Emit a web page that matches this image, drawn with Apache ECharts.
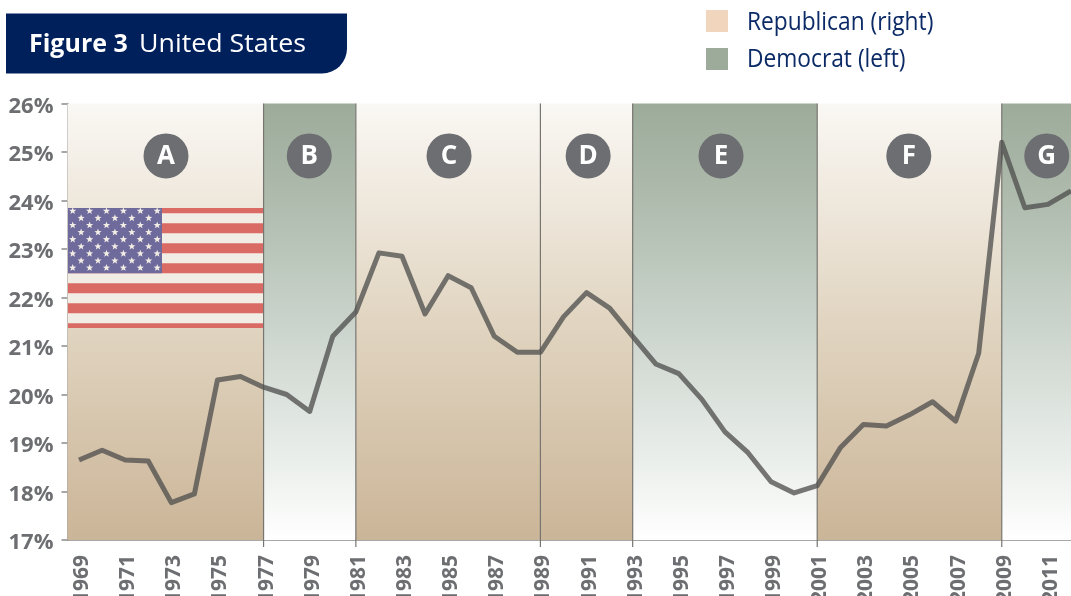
<!DOCTYPE html>
<html>
<head>
<meta charset="utf-8">
<title>Figure 3 United States</title>
<script src="https://cdn.jsdelivr.net/npm/echarts@6/dist/echarts.min.js"></script>
<style>
  html, body {margin: 0; padding: 0; background: #fff; overflow: hidden;}
  #chart {width: 1071px; height: 596px;}
</style>
</head>
<body>
<div id="chart"></div>
<script>
var years = ['1969','1970','1971','1972','1973','1974','1975','1976','1977','1978','1979','1980','1981','1982','1983',
  '1984','1985','1986','1987','1988','1989','1990','1991','1992','1993','1994','1995','1996','1997','1998','1999',
  '2000','2001','2002','2003','2004','2005','2006','2007','2008','2009','2010','2011','2012'];
var values = [18.65,18.85,18.65,18.63,17.77,17.95,20.3,20.37,20.15,20.0,19.65,21.2,21.7,22.92,22.85,
  21.66,22.45,22.2,21.2,20.87,20.87,21.6,22.1,21.78,21.2,20.63,20.43,19.9,19.23,18.8,18.2,
  17.97,18.12,18.9,19.38,19.35,19.58,19.85,19.45,20.85,25.2,23.85,23.92,24.2];

var periodStart = ['1969','1977','1981','1989','1993','2001','2009'];
var periodEnd = ['1977','1981','1989','1993','2001','2009','2012'];
var periodParty = ['R','D','R','R','D','R','D'];
var badgeLabels = ['A','B','C','D','E','F','G'];
var badgeYears = [1972.77,1978.98,1985.04,1991.07,1996.83,2004.97,2010.95];
var badgeLevel = 24.92;

var legendLabels = ['Republican (right)','Democrat (left)'];
var legendColors = ['#f1d6bd','#9dab9b'];

var gradients = {
  R: [[0,'#faf8f4'],[0.22,'#efe8dd'],[0.5,'#e1d5c1'],[1,'#cbb598']],
  D: [[0,'#9dab9b'],[0.22,'#aebbad'],[0.45,'#c5cfc6'],[0.78,'#e6ebe7'],[1,'#ffffff']]
};

function gradient(stops) {
  return new echarts.graphic.LinearGradient(0, 0, 0, 1, stops.map(function (s) {
    return {offset: s[0], color: s[1]};
  }));
}

function renderPeriod(params, api) {
  var i = params.dataIndex;
  var grid = params.coordSys;
  var x0 = i === 0 ? grid.x : api.coord([years.indexOf(periodStart[i]), 26])[0];
  var x1 = i === periodStart.length - 1 ? grid.x + grid.width : api.coord([years.indexOf(periodEnd[i]), 26])[0];
  var children = [{
    type: 'rect',
    shape: {x: x0, y: grid.y, width: x1 - x0, height: grid.height},
    style: {fill: gradient(gradients[periodParty[i]])}
  }];
  if (i > 0) {
    children.push({
      type: 'line',
      shape: {x1: x0, y1: grid.y, x2: x0, y2: grid.y + grid.height + 7},
      style: {stroke: '#77756f', lineWidth: 1.2}
    });
  }
  return {type: 'group', children: children};
}

function renderBadge(params, api) {
  var i = params.dataIndex;
  var whole = Math.floor(badgeYears[i]);
  var p = api.coord([years.indexOf(String(whole)), badgeLevel]);
  var band = api.size([1, 0])[0];
  var x = p[0] + (badgeYears[i] - whole) * band;
  return {
    type: 'group',
    children: [{
      type: 'circle',
      shape: {cx: x, cy: p[1], r: 22.5},
      style: {fill: '#6d6e71'}
    }, {
      type: 'text',
      style: {
        x: x, y: p[1] + 1, text: badgeLabels[i], fill: '#fff',
        font: '700 26px "Open Sans"', align: 'center', verticalAlign: 'middle'
      }
    }]
  };
}

function flagElements() {
  var left = 68, top = 208, width = 195, height = 120, els = [];
  els.push({type: 'rect', z: 5, shape: {x: left, y: top, width: width, height: height}, style: {fill: '#f2ede4'}});
  var stripes = [[208,5.3],[223.3,10],[243.3,10],[263.3,10],[283.3,10],[303.3,10],[323.3,4.7]];
  stripes.forEach(function (s) {
    els.push({type: 'rect', z: 5, shape: {x: left, y: s[0], width: width, height: s[1]}, style: {fill: '#da6b64'}});
  });
  els.push({type: 'rect', z: 5, shape: {x: left, y: top, width: 94, height: 65.3}, style: {fill: '#6f6a9c'}});
  for (var row = 0; row < 9; row++) {
    var odd = row % 2 === 1;
    var count = odd ? 5 : 6;
    for (var c = 0; c < count; c++) {
      els.push(star(left + 4.7 + (odd ? 8.4 : 0) + c * 16.9, top + 3 + row * 7.1, 3.8));
    }
  }
  return els;
}

function star(cx, cy, r) {
  var pts = [];
  for (var k = 0; k < 10; k++) {
    var rad = k % 2 === 0 ? r : r * 0.42;
    var a = -Math.PI / 2 + k * Math.PI / 5;
    pts.push([cx + rad * Math.cos(a), cy + rad * Math.sin(a)]);
  }
  return {type: 'polygon', z: 6, shape: {points: pts}, style: {fill: '#f2ede4'}};
}

var graphics = [{
  type: 'rect',
  shape: {x: 6, y: 13.5, width: 341, height: 60, r: [0, 0, 25, 0]},
  style: {fill: '#00205c'}
}, {
  type: 'text',
  style: {x: 29, y: 44.5, text: 'Figure 3', fill: '#fff', font: '700 25px "Open Sans"', verticalAlign: 'middle'}
}, {
  type: 'text',
  x: 139, y: 44.5, scaleX: 1.07,
  style: {x: 0, y: 0, text: 'United States', fill: '#fff', font: '400 25px "Open Sans"', verticalAlign: 'middle'}
}];
legendLabels.forEach(function (name, i) {
  graphics.push({
    type: 'rect',
    shape: {x: 706, y: 10 + i * 38, width: 22, height: 22},
    style: {fill: legendColors[i]}
  });
  graphics.push({
    type: 'text',
    x: 747, y: 23 + i * 36.5, scaleX: 0.91,
    style: {x: 0, y: 0, text: name, fill: '#0b2a66', font: '400 25px "Open Sans"', verticalAlign: 'middle'}
  });
});
graphics = graphics.concat(flagElements());

var chart = echarts.init(document.getElementById('chart'), null, {renderer: 'canvas'});
chart.setOption({
  animation: false,
  backgroundColor: '#fff',
  grid: {left: 67.5, right: -11.5, top: 103.5, bottom: 56, containLabel: false, outerBoundsMode: 'none'},
  xAxis: {
    type: 'category',
    data: years,
    boundaryGap: true,
    axisLine: {lineStyle: {color: '#8a8a8c', width: 1.5}},
    axisTick: {interval: 0, length: 6, lineStyle: {color: '#8a8a8c', width: 1.5}},
    axisLabel: {
      interval: 1, rotate: 90, margin: 15, color: '#6d6e71', verticalAlign: 'top', lineHeight: 6,
      fontFamily: 'Open Sans', fontWeight: 700, fontSize: 21
    }
  },
  yAxis: {
    type: 'value',
    min: 17, max: 26, interval: 1,
    splitLine: {show: false},
    axisLine: {show: true, lineStyle: {color: '#8a8a8c', width: 1.5}},
    axisTick: {show: true, length: 6, lineStyle: {color: '#8a8a8c', width: 1.5}},
    axisLabel: {
      margin: 14, color: '#6d6e71', formatter: '{value}%', verticalAlign: 'top', lineHeight: 6,
      fontFamily: 'Open Sans', fontWeight: 700, fontSize: 22
    }
  },
  series: [{
    type: 'custom', z: 1, silent: true,
    data: periodStart.map(function (y) { return [y, 26]; }),
    renderItem: renderPeriod
  }, {
    type: 'line', z: 3, silent: true,
    data: values,
    symbol: 'none',
    lineStyle: {color: 'rgba(78,78,76,0.76)', width: 5, join: 'round'}
  }, {
    type: 'custom', z: 4, silent: true,
    data: badgeLabels.map(function (l, i) { return [String(Math.floor(badgeYears[i])), badgeLevel]; }),
    renderItem: renderBadge
  }],
  graphic: graphics
});
</script>
</body>
</html>
